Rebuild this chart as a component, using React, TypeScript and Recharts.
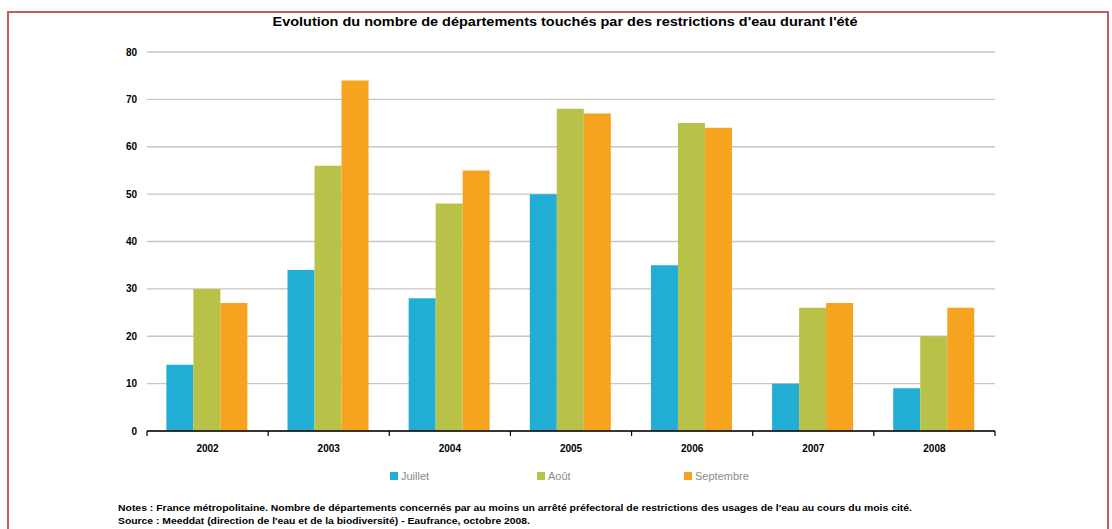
import React from 'react';
import { BarChart, Bar, XAxis, YAxis, CartesianGrid } from 'recharts';

const years = ['2002', '2003', '2004', '2005', '2006', '2007', '2008'];
const juillet = [14, 34, 28, 50, 35, 10, 9];
const aout = [30, 56, 48, 68, 65, 26, 20];
const septembre = [27, 74, 55, 67, 64, 27, 26];
const seriesNames = ['Juillet', 'Août', 'Septembre'];
const seriesKeys = ['juillet', 'aout', 'septembre'];
const seriesColors = ['#22aed4', '#b9c248', '#f6a420'];
const yTicks = [0, 10, 20, 30, 40, 50, 60, 70, 80];

const title = "Evolution du nombre de départements touchés par des restrictions d'eau durant l'été";
const note1 = "Notes : France métropolitaine. Nombre de départements concernés par au moins un arrêté préfectoral de restrictions des usages de l'eau au cours du mois cité.";
const note2 = "Source : Meeddat (direction de l'eau et de la biodiversité) - Eaufrance, octobre 2008.";

const data = years.map((y, i) => ({
  year: y,
  juillet: juillet[i],
  aout: aout[i],
  septembre: septembre[i],
}));

const FONT = '"Liberation Sans", Arial, sans-serif';
const CHART_W = 1112;
const CHART_H = 470;
const MARGIN = { top: 52, right: 117, bottom: 9, left: 107 };
const Y_W = 40;
const PLOT_W = CHART_W - MARGIN.left - MARGIN.right - Y_W;

const XTick = (props: any) => {
  const { x, y, payload, index } = props;
  const half = payload && typeof payload.offset === 'number' && payload.offset > 0
    ? payload.offset
    : PLOT_W / years.length / 2;
  return (
    <g>
      <line x1={x - half} x2={x - half} y1={y} y2={y + 5} stroke="#000" strokeWidth={1.2} />
      {index === years.length - 1 && (
        <line x1={x + half} x2={x + half} y1={y} y2={y + 5} stroke="#000" strokeWidth={1.2} />
      )}
      <text x={x} y={y + 21} textAnchor="middle" fontFamily={FONT} fontSize={10} fontWeight={700} fill="#000">
        {payload.value}
      </text>
    </g>
  );
};

export default function App() {
  return (
    <div style={{ position: 'fixed', left: 0, top: 0, width: 1112, height: 529, overflow: 'hidden', background: '#fff' }}>
      <div
        style={{
          position: 'absolute',
          left: 7,
          top: 11,
          width: 1102,
          height: 560,
          boxSizing: 'border-box',
          border: '2px solid #c65a67',
        }}
      />
      <svg style={{ position: 'absolute', left: 0, top: 0 }} width={1112} height={529}>
        <text x={565} y={26} textAnchor="middle" fontFamily={FONT} fontSize={12} fontWeight={700} fill="#000"
          textLength={585} lengthAdjust="spacingAndGlyphs">
          {title}
        </text>
        <text x={118} y={511} fontFamily={FONT} fontSize={9} fontWeight={700} fill="#000"
          textLength={794} lengthAdjust="spacingAndGlyphs">
          {note1}
        </text>
        <text x={118} y={524} fontFamily={FONT} fontSize={9} fontWeight={700} fill="#000"
          textLength={412} lengthAdjust="spacingAndGlyphs">
          {note2}
        </text>
      </svg>
      <div style={{ position: 'absolute', left: 0, top: 0 }}>
        <BarChart width={CHART_W} height={CHART_H} data={data} margin={MARGIN} barCategoryGap="16%" barGap={0}>
          <CartesianGrid vertical={false} stroke="#c9c5c1" strokeWidth={1.3} />
          <XAxis
            dataKey="year"
            height={30}
            axisLine={{ stroke: '#000', strokeWidth: 1.5 }}
            tickLine={false}
            tickSize={0}
            tickMargin={0}
            tick={<XTick />}
            interval={0}
          />
          <YAxis
            width={Y_W}
            domain={[0, 80]}
            ticks={yTicks}
            axisLine={false}
            tickLine={false}
            tickMargin={4}
            tick={{ fontFamily: FONT, fontSize: 10, fontWeight: 700, fill: '#000' }}
          />
          {seriesKeys.map((k, i) => (
            <Bar key={k} dataKey={k} name={seriesNames[i]} fill={seriesColors[i]} isAnimationActive={false} />
          ))}
        </BarChart>
      </div>
      <div style={{ position: 'absolute', left: 390, top: 468, display: 'flex', fontFamily: FONT }}>
        {seriesNames.map((n, i) => (
          <div key={n} style={{ width: 147, display: 'flex', alignItems: 'center', height: 16 }}>
            <span style={{ display: 'inline-block', width: 8, height: 8, background: seriesColors[i], marginRight: 3 }} />
            <span style={{ fontSize: 11, color: '#8a8a8a' }}>{n}</span>
          </div>
        ))}
      </div>
    </div>
  );
}
